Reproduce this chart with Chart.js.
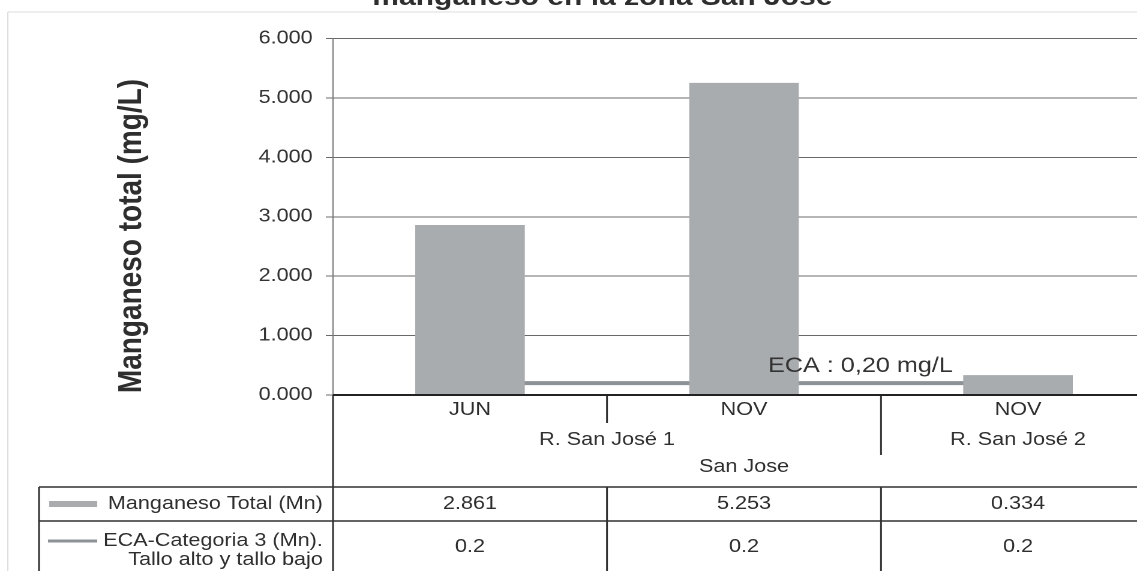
<!DOCTYPE html>
<html lang="es">
<head>
<meta charset="utf-8">
<title>Manganeso en la zona San Jose</title>
<script src="https://cdn.jsdelivr.net/npm/chart.js@4/dist/chart.umd.min.js"></script>
<style>
  html, body { margin: 0; padding: 0; background: #fff; overflow: hidden; }
  /* el escaneo original sale estirado en horizontal, se imita con scaleX */
  #contenedor {
    position: absolute; left: 0; top: 0;
    width: 980px; height: 571px;
    transform: scaleX(1.2); transform-origin: 0 0;
  }
</style>
</head>
<body>
<div id="contenedor"><canvas id="graficoCanvas"></canvas></div>
<script>
// Datos
const meses = ['JUN', 'NOV', 'NOV'];
const estaciones = ['R. San José 1', 'R. San José 1', 'R. San José 2'];
const zona = 'San Jose';
const manganesoTotal = [2.861, 5.253, 0.334];
const ecaCategoria3 = [0.2, 0.2, 0.2];
const ticksEjeY = [0, 1, 2, 3, 4, 5, 6];

// Textos
const tituloGrafico = 'manganeso en la zona San Jose';
const tituloEjeY = 'Manganeso total (mg/L)';
const nombreSerie1 = 'Manganeso Total (Mn)';
const nombreSerie2 = ['ECA-Categoria 3 (Mn).', 'Tallo alto y tallo bajo'];
const etiquetaECA = 'ECA : 0,20 mg/L';

// Colores
const colorBarra = '#a9acaf';
const colorLinea = '#8d9297';
const colorTexto = '#2e2e2e';
const fuente = '"Liberation Sans", Arial, sans-serif';

// Posiciones de las filas de la tabla de abajo
const filaMes = 410;
const filaEstacion = 440;
const filaZona = 467;
const lineaTabla = 487;
const filaSerie1 = 504;
const lineaSerie = 521;
const bordeTabla = 32.5;

function linea(ctx, x1, y1, x2, y2) {
    ctx.beginPath();
    ctx.moveTo(x1, y1);
    ctx.lineTo(x2, y2);
    ctx.stroke();
}

// Plugin que dibuja el título, el título del eje y la tabla de datos
const pluginTabla = {
    id: 'tablaDatos',
    beforeDraw(chart) {
        const ctx = chart.ctx;
        ctx.save();
        // marco tenue del escaneo
        ctx.strokeStyle = '#dcdcdc';
        ctx.lineWidth = 1;
        linea(ctx, 6.5, 12, chart.width, 12);
        linea(ctx, 6.5, 12, 6.5, chart.height);
        ctx.restore();
    },
    afterDraw(chart) {
        const ctx = chart.ctx;
        const area = chart.chartArea;
        const ejeX = chart.scales.x;
        const ejeY = chart.scales.y;
        const n = meses.length;
        const anchoCat = (area.right - area.left) / n;
        const centro = i => ejeX.getPixelForValue(i);
        const bordeDer = i => centro(i) + anchoCat / 2;
        const bordeIzq = i => centro(i) - anchoCat / 2;
        const abajo = chart.height;

        ctx.save();

        // título (cortado arriba en el original)
        ctx.fillStyle = colorTexto;
        ctx.font = 'bold 25px ' + fuente;
        ctx.textAlign = 'center';
        ctx.textBaseline = 'alphabetic';
        ctx.fillText(tituloGrafico, 502, 5);

        // título del eje y
        ctx.save();
        ctx.translate(110, 236);
        ctx.rotate(-Math.PI / 2);
        ctx.font = 'bold 28px ' + fuente;
        ctx.textBaseline = 'middle';
        ctx.fillText(tituloEjeY, 0, 0);
        ctx.restore();

        // etiqueta del ECA encima de la línea
        ctx.font = '21px ' + fuente;
        ctx.textAlign = 'left';
        ctx.fillStyle = '#333';
        ctx.fillText(etiquetaECA, centro(1) + 20, ejeY.getPixelForValue(ecaCategoria3[1]) - 11);

        // líneas de la tabla
        ctx.strokeStyle = '#303030';
        ctx.lineWidth = 1.5;
        linea(ctx, area.left, area.bottom, area.left, abajo);
        linea(ctx, bordeTabla, lineaTabla, chart.width, lineaTabla);
        linea(ctx, bordeTabla, lineaSerie, chart.width, lineaSerie);
        linea(ctx, bordeTabla, lineaTabla, bordeTabla, abajo);
        for (let i = 0; i < n - 1; i++) {
            const x = bordeDer(i);
            const mismaEstacion = estaciones[i] === estaciones[i + 1];
            linea(ctx, x, area.bottom, x, mismaEstacion ? 423 : 455);
            linea(ctx, x, lineaTabla, x, abajo);
        }
        ctx.lineWidth = 2;
        ctx.strokeStyle = '#222';
        linea(ctx, area.left, area.bottom, chart.width, area.bottom);

        // textos de categorías
        ctx.fillStyle = colorTexto;
        ctx.font = '18px ' + fuente;
        ctx.textAlign = 'center';
        ctx.textBaseline = 'middle';
        meses.forEach((mes, i) => ctx.fillText(mes, centro(i), filaMes));

        // estaciones agrupadas
        let inicio = 0;
        for (let i = 1; i <= n; i++) {
            if (i === n || estaciones[i] !== estaciones[inicio]) {
                const xc = (bordeIzq(inicio) + bordeDer(i - 1)) / 2;
                ctx.fillText(estaciones[inicio], xc, filaEstacion);
                inicio = i;
            }
        }
        ctx.fillText(zona, (bordeIzq(0) + bordeDer(n - 1)) / 2, filaZona);

        // valores
        manganesoTotal.forEach((v, i) => ctx.fillText(v.toFixed(3), centro(i), filaSerie1));
        ecaCategoria3.forEach((v, i) => ctx.fillText(String(v), centro(i), (lineaSerie + abajo) / 2 + 1));

        // leyenda dentro de la tabla
        ctx.fillStyle = colorBarra;
        ctx.fillRect(41, filaSerie1 - 3, 40, 6);
        ctx.strokeStyle = colorLinea;
        ctx.lineWidth = 3;
        linea(ctx, 40, 541, 81, 541);

        ctx.fillStyle = colorTexto;
        ctx.textAlign = 'right';
        ctx.fillText(nombreSerie1, area.left - 8.5, filaSerie1);
        ctx.fillText(nombreSerie2[0], area.left - 8.5, 541);
        ctx.fillText(nombreSerie2[1], area.left - 8.5, 560);

        ctx.restore();
    }
};

const ctx = document.getElementById('graficoCanvas').getContext('2d');

const grafico = new Chart(ctx, {
    type: 'bar',
    data: {
        labels: meses,
        datasets: [
            {
                type: 'bar',
                label: nombreSerie1,
                data: manganesoTotal,
                backgroundColor: colorBarra,
                borderWidth: 0,
                barPercentage: 0.4,
                categoryPercentage: 1,
                order: 1
            },
            {
                type: 'line',
                label: nombreSerie2.join(' '),
                data: ecaCategoria3,
                borderColor: colorLinea,
                borderWidth: 4,
                pointRadius: 0,
                fill: false,
                order: 2
            }
        ]
    },
    plugins: [pluginTabla],
    options: {
        responsive: true,
        maintainAspectRatio: false,
        devicePixelRatio: 2,
        animation: false,
        layout: {
            padding: { top: 38.5, right: 17.5, bottom: 176, left: 0 }
        },
        plugins: {
            legend: { display: false },
            tooltip: { enabled: false }
        },
        scales: {
            x: {
                display: false,
                offset: true
            },
            y: {
                min: ticksEjeY[0],
                max: ticksEjeY[ticksEjeY.length - 1],
                afterFit: escala => { escala.width = 277.5; },
                afterBuildTicks: escala => {
                    escala.ticks = ticksEjeY.map(v => ({ value: v }));
                },
                grid: {
                    color: '#6a6a6a',
                    lineWidth: 1,
                    tickLength: 6
                },
                border: { color: '#777', width: 1 },
                ticks: {
                    color: '#333',
                    padding: 11,
                    font: { family: fuente, size: 18 },
                    callback: v => Number(v).toFixed(3)
                }
            }
        }
    }
});
</script>
</body>
</html>
